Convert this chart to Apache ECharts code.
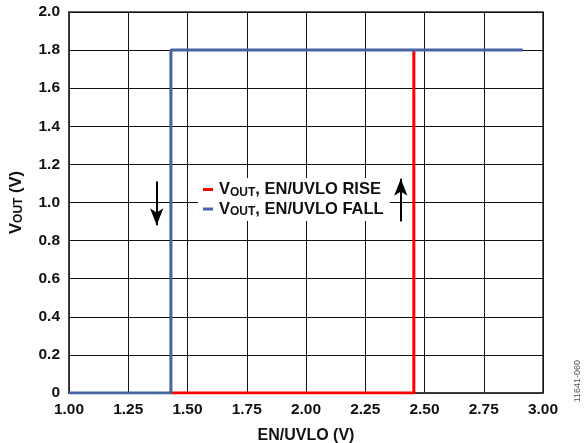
<!DOCTYPE html>
<html><head><meta charset="utf-8">
<script src="https://cdn.jsdelivr.net/npm/echarts@6/dist/echarts.min.js"></script>
<style>html,body{margin:0;padding:0;background:#fff}#c{width:588px;height:443px}</style>
</head><body><div id="c"></div>
<script>
const xTicks = [1.00, 1.25, 1.50, 1.75, 2.00, 2.25, 2.50, 2.75, 3.00];
const yTicks = [0, 0.2, 0.4, 0.6, 0.8, 1.0, 1.2, 1.4, 1.6, 1.8, 2.0];
const riseX = [1.43, 2.455, 2.455];
const riseY = [0, 0, 1.8];
const fallX = [1.00, 1.43, 1.43, 2.915];
const fallY = [0, 0, 1.8, 1.8];
const arrowDown = [[1.37, 1.11], [1.37, 0.88]];
const arrowUp = [[2.40, 0.90], [2.40, 1.125]];

const font = '"Liberation Sans", Arial, sans-serif';
const zip = (xs, ys) => xs.map((x, i) => [x, ys[i]]);
const rich = {sub: {fontSize: 12, fontWeight: 'bold', fontFamily: font, color: '#111', verticalAlign: 'bottom', padding: [6, 0, 0, 0]}};

const chart = echarts.init(document.getElementById('c'));
chart.setOption({
  animation: false,
  grid: {left: 69, right: 45, top: 12, bottom: 50, show: true, borderColor: '#333', borderWidth: 1.5,
    containLabel: false, outerBoundsMode: 'none'},
  legend: {
    left: 198, top: 178, orient: 'vertical', itemGap: 2,
    backgroundColor: '#fff', padding: [3, 6, 3, 5],
    itemWidth: 10, itemHeight: 3, icon: 'rect',
    textStyle: {fontFamily: font, fontWeight: 'bold', fontSize: 16.5, color: '#111', rich: rich, padding: [0, 0, 0, 1]},
    formatter: function (n) { return n === 'rise' ? 'V{sub|OUT}, EN/UVLO RISE' : 'V{sub|OUT}, EN/UVLO FALL'; },
    data: ['rise', 'fall']
  },
  xAxis: {
    type: 'value', min: 1.0, max: 3.0, interval: 0.25,
    name: 'EN/UVLO (V)', nameLocation: 'middle', nameGap: 35,
    nameTextStyle: {fontFamily: font, fontWeight: 'bold', fontSize: 16, color: '#111'},
    axisLine: {show: true, lineStyle: {color: '#333', width: 1.5}},
    axisTick: {show: false},
    axisLabel: {fontFamily: font, fontWeight: 'bold', fontSize: 15.5, color: '#111', margin: 9,
      formatter: v => v.toFixed(2)},
    splitLine: {show: true, lineStyle: {color: '#111', width: 1}}
  },
  yAxis: {
    type: 'value', min: 0, max: 2.0, interval: 0.2,
    name: 'V{sub|OUT} (V)', nameLocation: 'middle', nameGap: 44, nameRotate: 90,
    nameTextStyle: {fontFamily: font, fontWeight: 'bold', fontSize: 16.5, color: '#111', rich: rich},
    axisLine: {show: true, lineStyle: {color: '#333', width: 1.5}},
    axisTick: {show: false},
    axisLabel: {fontFamily: font, fontWeight: 'bold', fontSize: 15.5, color: '#111', margin: 9,
      formatter: v => (Math.abs(v) < 1e-9 ? '0' : v.toFixed(1))},
    splitLine: {show: true, lineStyle: {color: '#111', width: 1}}
  },
  series: [
    {name: 'rise', type: 'line', data: zip(riseX, riseY), showSymbol: false, z: 3,
      lineStyle: {color: '#ff0000', width: 3}, itemStyle: {color: '#ff0000'}},
    {name: 'fall', type: 'line', data: zip(fallX, fallY), showSymbol: false, z: 4,
      lineStyle: {color: '#44659f', width: 3}, itemStyle: {color: '#44659f'},
      markLine: {silent: true, symbol: ['none', 'arrow'], symbolSize: [10, 17], label: {show: false},
        lineStyle: {color: '#000', width: 2, type: 'solid'},
        data: [
          [{coord: arrowDown[0]}, {coord: arrowDown[1]}],
          [{coord: arrowUp[0]}, {coord: arrowUp[1]}]
        ]}}
  ],
  graphic: [{type: 'text', left: 573, top: 360, rotation: Math.PI / 2,
    style: {text: '11641-060', fill: '#555', font: '9px ' + font}}]
});
</script></body></html>
